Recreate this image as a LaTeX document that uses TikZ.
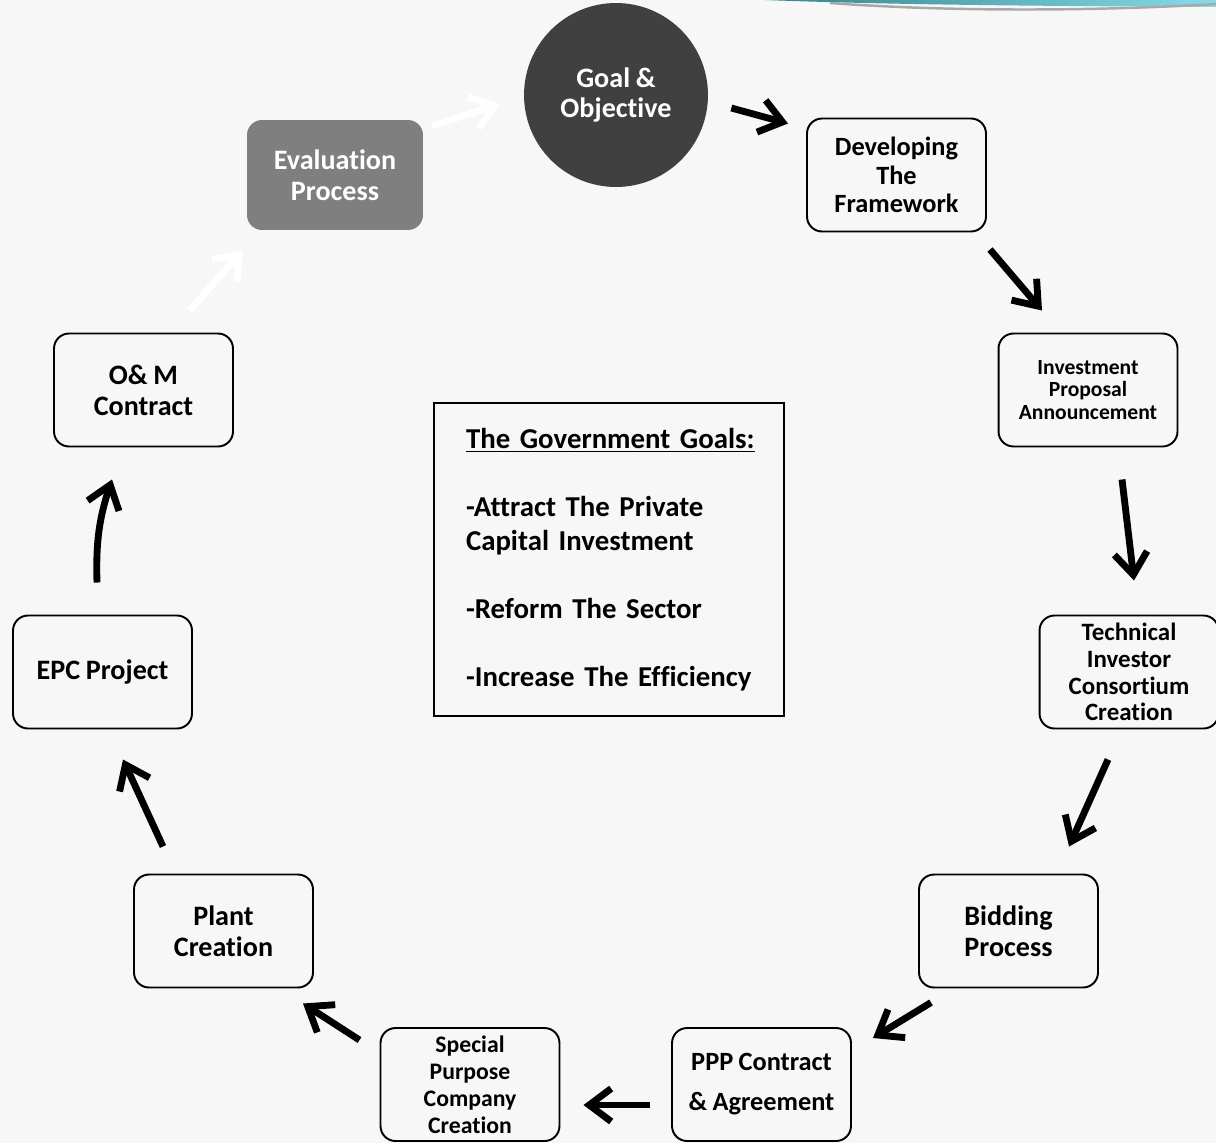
\documentclass[tikz,border=0pt]{standalone}
\usepackage{fontspec}
\setmainfont{Carlito}[Ligatures=NoCommon,WordSpace=0.9]
\usetikzlibrary{arrows.meta,calc,positioning}
\definecolor{goalDark} {HTML}{404040}
\definecolor{evalGray} {HTML}{7F7F7F}
\definecolor{paperGray}{HTML}{F7F7F7}
\definecolor{tealDark} {HTML}{2F7F86}
\definecolor{tealMid}  {HTML}{19C99A}
\definecolor{tealLight}{HTML}{86DCEB}
\definecolor{rimGray}  {HTML}{A8A8A8}
\tikzset{
  stage/.style={rectangle,rounded corners=0.3cm,draw=black,line width=1.1pt,
    minimum width=3.58cm,minimum height=2.26cm,align=center,inner sep=1pt,outer sep=0pt,
    font=\bfseries\fontsize{16}{17.6}\selectfont},
  evalbox/.style={stage,draw=none,fill=evalGray,text=white,
    minimum width=3.52cm,minimum height=2.2cm},
  hub/.style={circle,fill=goalDark,text=white,minimum size=3.68cm,inner sep=0pt,
    align=center,font=\bfseries\fontsize{16}{17.6}\selectfont},
  goalsbox/.style={rectangle,draw=black,line width=1.1pt,minimum width=7cm,
    minimum height=6.26cm,text width=5.72cm,align=left,inner sep=0pt,
    font=\bfseries\fontsize{16.4}{19.3}\selectfont},
  flow/.style={-{Straight Barb[length=0.44cm,width=0.66cm]},draw=black,line width=3.9pt},
  faint/.style={flow,draw=white},
}

\begin{document}
\begin{tikzpicture}[x=0.02cm,y=-0.02cm]

\fill[paperGray] (0,0) rectangle (1216,1143);
\useasboundingbox (0,0) rectangle (1216,1143);

% slide rim, top right
\shade[left color=tealDark,middle color=tealMid,right color=tealLight]
  (740,-1) .. controls (880,5) and (1050,6) .. (1216,7) -- (1216,-1) -- cycle;
\draw[rimGray,line width=1.4pt] (830,3) .. controls (950,12) and (1100,11) .. (1216,4);

\node[hub] (goal) at (616,95) {Goal \&\\Objective};
\node[evalbox] (eval) at (335,175) {Evaluation\\Process};
\node[stage,font=\bfseries\fontsize{15}{16.2}\selectfont] (dev) at (896.5,175) {Developing\\The\\Framework};
\node[stage,font=\bfseries\fontsize{12.3}{12.8}\selectfont] (invest) at (1088,390) {Investment\\Proposal\\Announcement};
\node[stage,font=\bfseries\fontsize{14.2}{15.3}\selectfont] (tech) at (1129,672) {Technical\\Investor\\Consortium\\Creation};
\node[stage] (bid) at (1008.5,931) {Bidding\\Process};
\node[stage,font=\bfseries\fontsize{15}{22.7}\selectfont] (ppp) at (761.5,1084.5) {PPP Contract\\\& Agreement};
\node[stage,font=\bfseries\fontsize{13.5}{15.3}\selectfont] (spc) at (470,1084.5) {Special\\Purpose\\Company\\Creation};
\node[stage] (plant) at (223.5,931) {Plant\\Creation};
\node[stage] (epc) at (102.5,672) {EPC Project};
\node[stage] (om) at (143.5,390) {O\& M\\Contract};

\node[goalsbox] (goals) at (609,559.5)
  {\underline{The Government Goals:}\\[19.3pt]
   -Attract The Private\\Capital Investment\\[19.3pt]
   -Reform The Sector\\[19.3pt]
   -Increase The Efficiency};

\draw[flow] ([shift={(23,13)}]goal.east) -- ([shift={(-19,5)}]dev.north west);
\draw[flow] ([shift={(4,18)}]dev.south east) -- ([shift={(-46,-23)}]invest.north);
\draw[flow] ([shift={(34,33)}]invest.south) -- ([shift={(5,-35)}]tech.north);
\draw[flow] ([shift={(-21,31)}]tech.south) -- ([shift={(60.5,-28)}]bid.north);
\draw[flow] ([shift={(12,15)}]bid.south west) -- ([shift={(22,10)}]ppp.north east);
\draw[flow] ([shift={(-22,20.5)}]ppp.west) -- ([shift={(24,20.5)}]spc.east);
\draw[flow] ([shift={(-21,12)}]spc.north west) -- ([shift={(-10,16)}]plant.south east);
\draw[flow] ([shift={(-60.5,-28)}]plant.north) -- ([shift={(20.5,31)}]epc.south);
\draw[flow] ([shift={(-5.5,-33)}]epc.north) to[bend left=10] ([shift={(-31.5,33)}]om.south);
\draw[faint] ([shift={(46,-23)}]om.north) -- ([shift={(-4,20)}]eval.south west);
\draw[faint] ([shift={(9,6)}]eval.north east) -- ([shift={(-24,9)}]goal.west);

\end{tikzpicture}
\end{document}
